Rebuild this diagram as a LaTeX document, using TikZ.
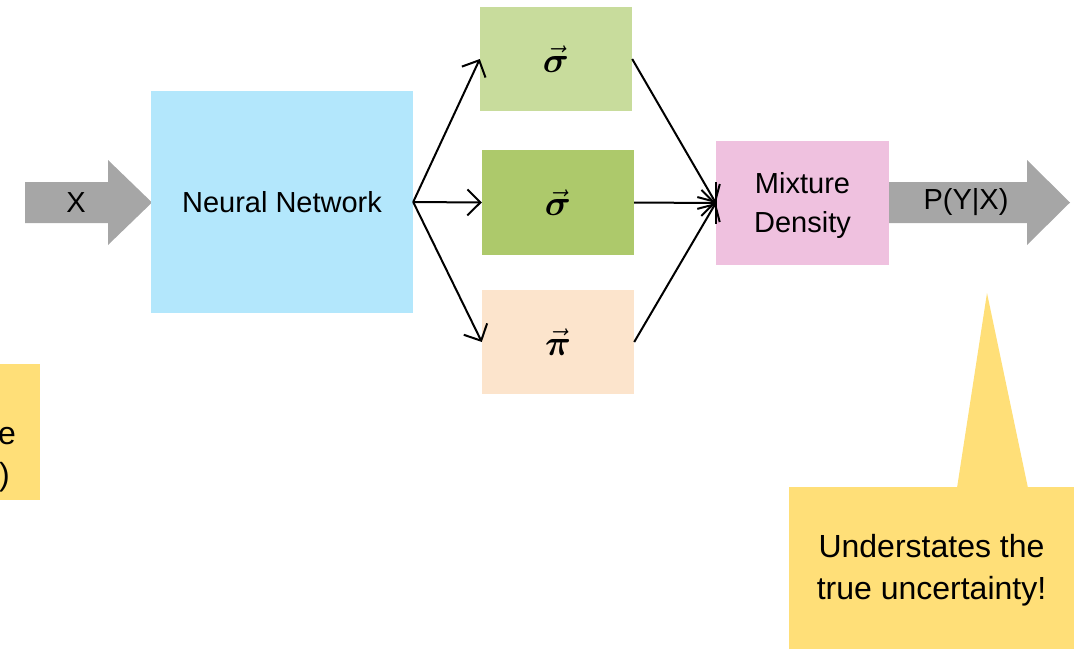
\documentclass[tikz,border=0pt]{standalone}
\usepackage{graphicx}
\usepackage{amsmath,bm}
\usepackage{fontspec}
\setmainfont{Liberation Sans}
\usetikzlibrary{arrows.meta}
\definecolor{nnblue}{RGB}{179,231,252}
\definecolor{sigA}{RGB}{200,220,156}
\definecolor{sigB}{RGB}{173,201,107}
\definecolor{piC}{RGB}{252,228,204}
\definecolor{mdpink}{RGB}{239,193,223}
\definecolor{arrgray}{RGB}{166,166,166}
\definecolor{yel}{RGB}{255,223,120}
\newcommand\mainfs{\fontsize{29}{39}\selectfont}
\newcommand\callfs{\fontsize{32}{42}\selectfont}
\newcommand\bigmath[1]{\scalebox{1.45}{$#1$}}
\tikzset{
  blk/.style={draw=none, inner sep=0pt, align=center, font=\mainfs},
  conn/.style={line width=2pt, -{Straight Barb[length=13pt,width=26pt,line width=2pt]}},
  plain/.style={line width=2pt},
  lbl/.style={inner sep=0pt, font=\mainfs},
}
\begin{document}
\begin{tikzpicture}[x=1pt,y=-1pt]
\useasboundingbox (0,0) rectangle (1074,649);
% input arrow
\fill[arrgray] (25,182) -- (108,182) -- (108,160) -- (152,202.5) -- (108,245) -- (108,223) -- (25,223) -- cycle;
\node[lbl] (x) at (76,202.5) {X};
% boxes
\node[blk, fill=nnblue, minimum width=262pt, minimum height=222pt] (nn) at (282,202) {Neural Network};
\node[blk, fill=sigA, minimum width=152pt, minimum height=104pt] (s1) at (556,59) {\bigmath{\vec{\bm{\sigma}}}};
\node[blk, fill=sigB, minimum width=152pt, minimum height=105pt] (s2) at (558,202.5) {\bigmath{\vec{\bm{\sigma}}}};
\node[blk, fill=piC, minimum width=152pt, minimum height=104pt] (pi) at (558,342) {\bigmath{\vec{\bm{\pi}}}};
% output arrow
\fill[arrgray] (886,182) -- (1027,182) -- (1027,160) -- (1070,202.5) -- (1027,245) -- (1027,223) -- (886,223) -- cycle;
\node[blk, fill=mdpink, minimum width=173pt, minimum height=124pt] (md) at (802.5,203) {};
\node[lbl, align=center] (mdt) at (802.5,205) {Mixture\\Density};
\node[lbl] (out) at (966,202.5) {P(Y|X)};
% connectors
\draw[conn] (nn.east) -- (s1.west);
\draw[conn] (nn.east) -- (s2.west);
\draw[conn] (nn.east) -- (pi.west);
\draw[conn] (s1.east) -- (md.west);
\draw[conn] (s2.east) -- (md.west);
\draw[conn] (pi.east) -- (md.west);
\draw[plain] ([yshift=-21pt]md.west) -- ([yshift=21pt]md.west);
% left callout (cut off)
\fill[yel] (0,364) rectangle (40,500);
\node[inner sep=0pt, anchor=base east, font=\callfs] (le) at (16,444) {e};
\node[inner sep=0pt, anchor=base east, font=\callfs] (lp) at (10,485) {)};
% right callout
\fill[yel] (789,487) rectangle (1074,649);
\fill[yel] (957,488) -- (987,293) -- (1028,488) -- cycle;
\node[inner sep=0pt, align=center, font=\callfs] (call) at (931.5,570) {Understates the\\true uncertainty!};
\end{tikzpicture}
\end{document}
